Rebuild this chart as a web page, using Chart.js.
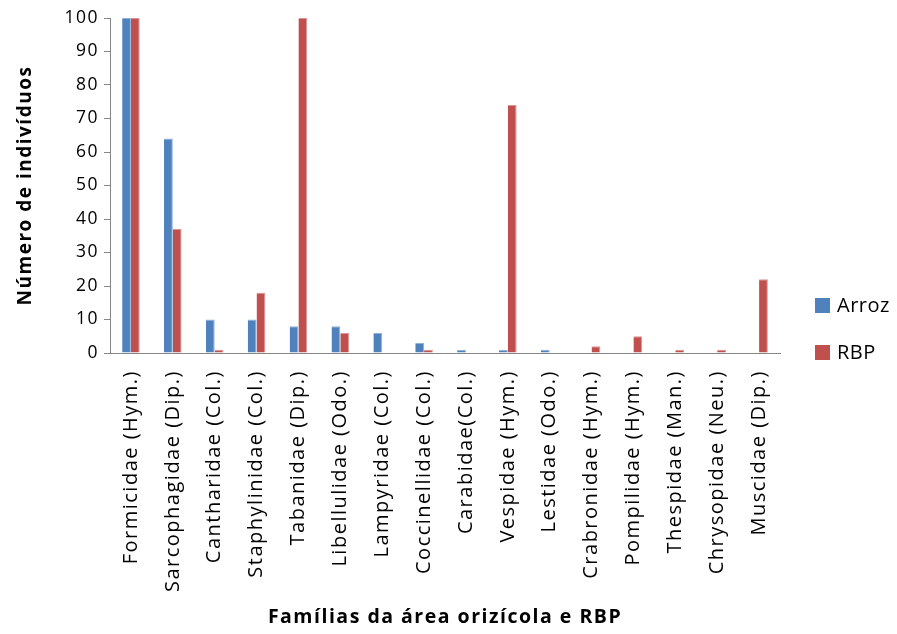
<!DOCTYPE html>
<html>
<head>
<meta charset="utf-8">
<script src="https://cdn.jsdelivr.net/npm/chart.js@4/dist/chart.umd.min.js"></script>
<style>
  html, body { margin: 0; padding: 0; background: #fff; }
  #wrap { width: 897px; height: 634px; }
</style>
</head>
<body>
<div id="wrap"><canvas id="c" width="897" height="634"></canvas></div>
<script>
const familias = [
  'Formicidae (Hym.)', 'Sarcophagidae (Dip.)', 'Cantharidae (Col.)', 'Staphylinidae (Col.)',
  'Tabanidae (Dip.)', 'Libellulidae (Odo.)', 'Lampyridae (Col.)', 'Coccinellidae (Col.)',
  'Carabidae(Col.)', 'Vespidae (Hym.)', 'Lestidae (Odo.)', 'Crabronidae (Hym.)',
  'Pompilidae (Hym.)', 'Thespidae (Man.)', 'Chrysopidae (Neu.)', 'Muscidae (Dip.)'
];
const arroz = [100, 64, 10, 10, 8, 8, 6, 3, 1, 1, 1, 0, 0, 0, 0, 0];
const rbp   = [100, 37, 1, 18, 100, 6, 0, 1, 0, 74, 0, 2, 5, 1, 1, 22];
const yTicks = [0, 10, 20, 30, 40, 50, 60, 70, 80, 90, 100];

const FONT = "'Open Sans', 'Noto Sans', sans-serif";
const SPACING = '1.5px';

// Loosely tracked text everywhere on the canvas
const tracking = {
  id: 'tracking',
  beforeUpdate(chart) { chart.ctx.letterSpacing = SPACING; },
  beforeDraw(chart) { chart.ctx.letterSpacing = SPACING; }
};

// Legend drawn at the right, beside the lower part of the plot
const sideLegend = {
  id: 'sideLegend',
  afterDraw(chart) {
    const ctx = chart.ctx;
    const items = chart.data.datasets;
    const x = 815, y0 = 305, gap = 47;
    ctx.save();
    ctx.letterSpacing = '0.5px';
    ctx.font = '20px ' + FONT;
    ctx.textBaseline = 'middle';
    items.forEach((ds, i) => {
      const y = y0 + i * gap;
      ctx.fillStyle = ds.backgroundColor;
      ctx.fillRect(x, y - 7, 15, 15);
      ctx.fillStyle = '#000';
      ctx.fillText(ds.label, x + 22, y + 1);
    });
    ctx.restore();
  }
};

new Chart(document.getElementById('c'), {
  type: 'bar',
  data: {
    labels: familias,
    datasets: [
      { label: 'Arroz', data: arroz, backgroundColor: '#4F81BD', borderColor: '#8FB0DA', borderWidth: {left: 0, right: 1, top: 1, bottom: 0} },
      { label: 'RBP', data: rbp, backgroundColor: '#C0504D', borderColor: '#DE9391', borderWidth: {left: 0, right: 1, top: 1, bottom: 0} }
    ]
  },
  options: {
    responsive: false,
    animation: false,
    devicePixelRatio: 1,
    layout: { padding: { top: 18, right: 117, left: 0, bottom: 0 } },
    plugins: { legend: { display: false }, tooltip: { enabled: false } },
    datasets: { bar: { categoryPercentage: 0.42, barPercentage: 1.0 } },
    scales: {
      x: {
        grid: { display: false, drawTicks: false },
        border: { color: '#868686', width: 1 },
        ticks: {
          color: '#000', font: { family: FONT, size: 20 },
          minRotation: 90, maxRotation: 90, autoSkip: false, padding: 17
        },
        title: {
          display: true, text: 'Famílias da área orizícola e RBP', color: '#000',
          font: { family: FONT, size: 19.5, weight: 'bold' }, padding: { top: 10, bottom: 5 }
        },
        afterFit(s) { s.height = 281; }
      },
      y: {
        min: 0, max: 100,
        grid: { display: true, drawOnChartArea: false, drawTicks: true, tickLength: 6, color: '#868686' },
        border: { color: '#868686', width: 1 },
        afterBuildTicks(s) { s.ticks = yTicks.map(v => ({ value: v })); },
        ticks: { color: '#000', font: { family: FONT, size: 17.5 }, padding: 5 },
        title: {
          display: true, text: 'Número de indivíduos', color: '#000',
          font: { family: FONT, size: 19, weight: 'bold' }, padding: { top: 14, bottom: 0 }
        },
        afterFit(s) { s.width = 110; }
      }
    }
  },
  plugins: [tracking, sideLegend]
});
</script>
</body>
</html>
